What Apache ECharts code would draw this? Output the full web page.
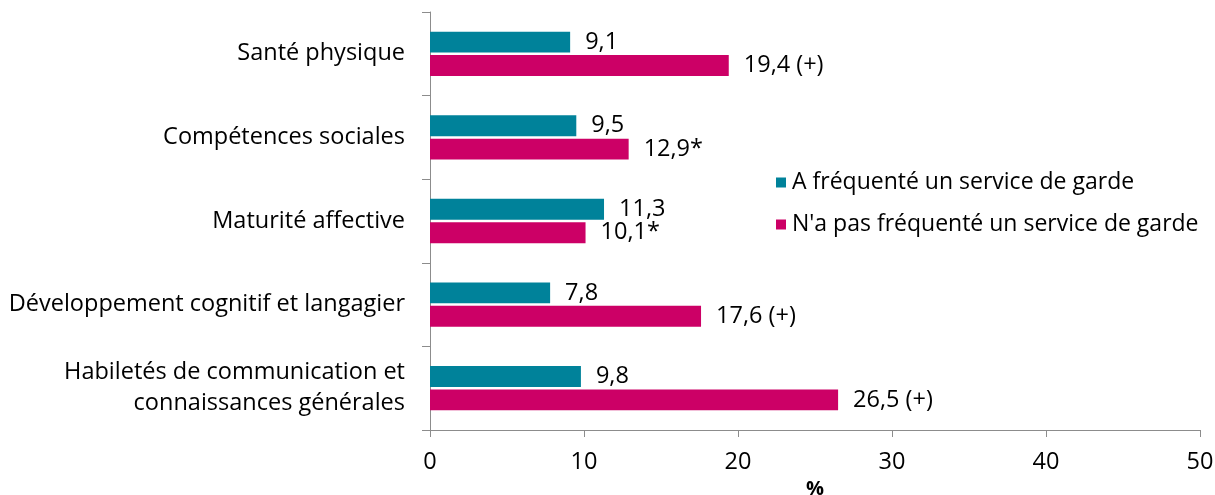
<!DOCTYPE html>
<html>
<head>
<meta charset="utf-8">
<script src="https://cdn.jsdelivr.net/npm/echarts@6/dist/echarts.min.js"></script>
<style>
    html, body { margin: 0; padding: 0; background: #fff; }
    #chart { width: 1215px; height: 495px; }
</style>
</head>
<body>
<div id="chart"></div>
<script>
const categories = [
    "Santé physique",
    "Compétences sociales",
    "Maturité affective",
    "Développement cognitif et langagier",
    "Habiletés de communication et\nconnaissances générales"
];
const seriesNames = ["A fréquenté un service de garde", "N'a pas fréquenté un service de garde"];
const frequente = [9.1, 9.5, 11.3, 7.8, 9.8];
const pasFrequente = [19.4, 12.9, 10.1, 17.6, 26.5];
const frequenteLabels = ["9,1", "9,5", "11,3", "7,8", "9,8"];
const pasFrequenteLabels = ["19,4 (+)", "12,9*", "10,1*", "17,6 (+)", "26,5 (+)"];

const font = "'Open Sans', 'Liberation Sans', sans-serif";
const fs = 23.5;
const axisGrey = "#8c8c8c";

function barSeries(name, color, values, labels) {
    return {
        name: name,
        type: 'bar',
        data: values,
        barGap: '12%',
        barCategoryGap: '47%',
        itemStyle: { color: color },
        label: {
            show: true,
            position: 'right',
            distance: 15,
            color: '#000',
            fontSize: fs,
            fontFamily: font,
            formatter: p => labels[p.dataIndex]
        }
    };
}

const chart = echarts.init(document.getElementById('chart'));
chart.setOption({
    animation: false,
    textStyle: { fontFamily: font },
    grid: { left: 430, right: 15, top: 12, bottom: 65, containLabel: false, outerBoundsMode: 'none' },
    legend: {
        orient: 'vertical',
        left: 771,
        top: 166,
        itemWidth: 10,
        itemHeight: 10,
        itemGap: 19,
        icon: 'rect',
        textStyle: { fontSize: 23, color: '#000', fontFamily: font, padding: [0, 0, 0, 1] },
        data: seriesNames
    },
    xAxis: {
        type: 'value',
        min: 0,
        max: 50,
        interval: 10,
        name: '%',
        nameLocation: 'middle',
        nameGap: 42,
        nameTextStyle: { fontSize: 20, fontWeight: 'bold', color: '#000', fontFamily: font },
        axisLine: { show: true, lineStyle: { color: axisGrey } },
        axisTick: { show: true, length: 7, lineStyle: { color: axisGrey } },
        axisLabel: { fontSize: fs, color: '#000', margin: 20, fontFamily: font },
        splitLine: { show: false }
    },
    yAxis: {
        type: 'category',
        inverse: true,
        data: categories,
        axisLine: { show: true, lineStyle: { color: axisGrey } },
        axisTick: { show: true, length: 8, lineStyle: { color: axisGrey } },
        axisLabel: {
            fontSize: fs,
            color: '#000',
            margin: 25,
            lineHeight: 31,
            align: 'right',
            fontFamily: font
        }
    },
    series: [
        barSeries(seriesNames[0], '#00829a', frequente, frequenteLabels),
        barSeries(seriesNames[1], '#cc0066', pasFrequente, pasFrequenteLabels)
    ]
});
</script>
</body>
</html>
